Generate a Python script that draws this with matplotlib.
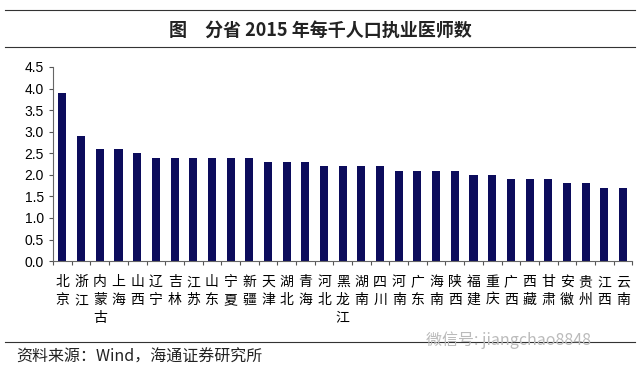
import matplotlib
matplotlib.use('Agg')
import matplotlib.pyplot as plt
from matplotlib.lines import Line2D

plt.rcParams['font.family'] = ['Noto Sans CJK SC', 'DejaVu Sans']

## data ##
provinces = ['北京', '浙江', '内蒙古', '上海', '山西', '辽宁', '吉林', '江苏', '山东', '宁夏',
             '新疆', '天津', '湖北', '青海', '河北', '黑龙江', '湖南', '四川', '河南', '广东',
             '海南', '陕西', '福建', '重庆', '广西', '西藏', '甘肃', '安徽', '贵州', '江西', '云南']
doctors = [3.9, 2.9, 2.6, 2.6, 2.5, 2.4, 2.4, 2.4, 2.4, 2.4,
           2.4, 2.3, 2.3, 2.3, 2.2, 2.2, 2.2, 2.2, 2.1, 2.1,
           2.1, 2.1, 2.0, 2.0, 1.9, 1.9, 1.9, 1.8, 1.8, 1.7, 1.7]
yticks = [0.0, 0.5, 1.0, 1.5, 2.0, 2.5, 3.0, 3.5, 4.0, 4.5]

fig = plt.figure(figsize=(6.4, 3.72), dpi=100)
ax = fig.add_axes([0.083, 0.298, 0.905, 0.522])

x = list(range(len(provinces)))
ax.bar(x, doctors, width=0.43, color='#0c0c5c')

ax.set_xlim(-0.5, len(provinces) - 0.5)
ax.set_ylim(0, 4.5)
ax.set_yticks(yticks)
ax.set_yticklabels([f'{v:.1f}' for v in yticks], fontsize=10, family='Liberation Sans')

# ticks at category boundaries, labels centered with stacked characters
ax.set_xticks([i - 0.5 for i in range(len(provinces) + 1)])
ax.set_xticklabels([])
ax.set_xticks(x, minor=True)
ax.set_xticklabels(['\n'.join(p) for p in provinces], minor=True, fontsize=10,
                   linespacing=1.35, va='top')
ax.tick_params(axis='x', which='minor', length=0, pad=10)
ax.tick_params(axis='x', which='major', length=3, direction='out', color='#555555')
ax.tick_params(axis='y', length=3, direction='out', color='#555555')

for s in ['top', 'right']:
    ax.spines[s].set_visible(False)
for s in ['left', 'bottom']:
    ax.spines[s].set_color('#666666')
    ax.spines[s].set_linewidth(0.8)

# title with rules above and below
fig.add_artist(Line2D([0.008, 0.992], [1 - 10 / 372, 1 - 10 / 372], color='#333333', lw=0.8))
fig.add_artist(Line2D([0.008, 0.992], [1 - 47 / 372, 1 - 47 / 372], color='#333333', lw=0.8))
fig.text(0.5, 1 - 30 / 372, '图　分省 2015 年每千人口执业医师数', ha='center', va='center',
         fontsize=13, fontweight='bold', color='#222222')

# source line
fig.add_artist(Line2D([0.008, 0.992], [1 - 342 / 372, 1 - 342 / 372], color='#333333', lw=0.8))
fig.text(0.026, 1 - 357 / 372, '资料来源：Wind，海通证券研究所', ha='left', va='center',
         fontsize=11.5, color='#222222')
fig.text(0.665, 1 - 340 / 372, '微信号: jiangchao8848', ha='left', va='center',
         fontsize=11.5, color='#bbbbbb')

fig.savefig('out.png', dpi=100)
